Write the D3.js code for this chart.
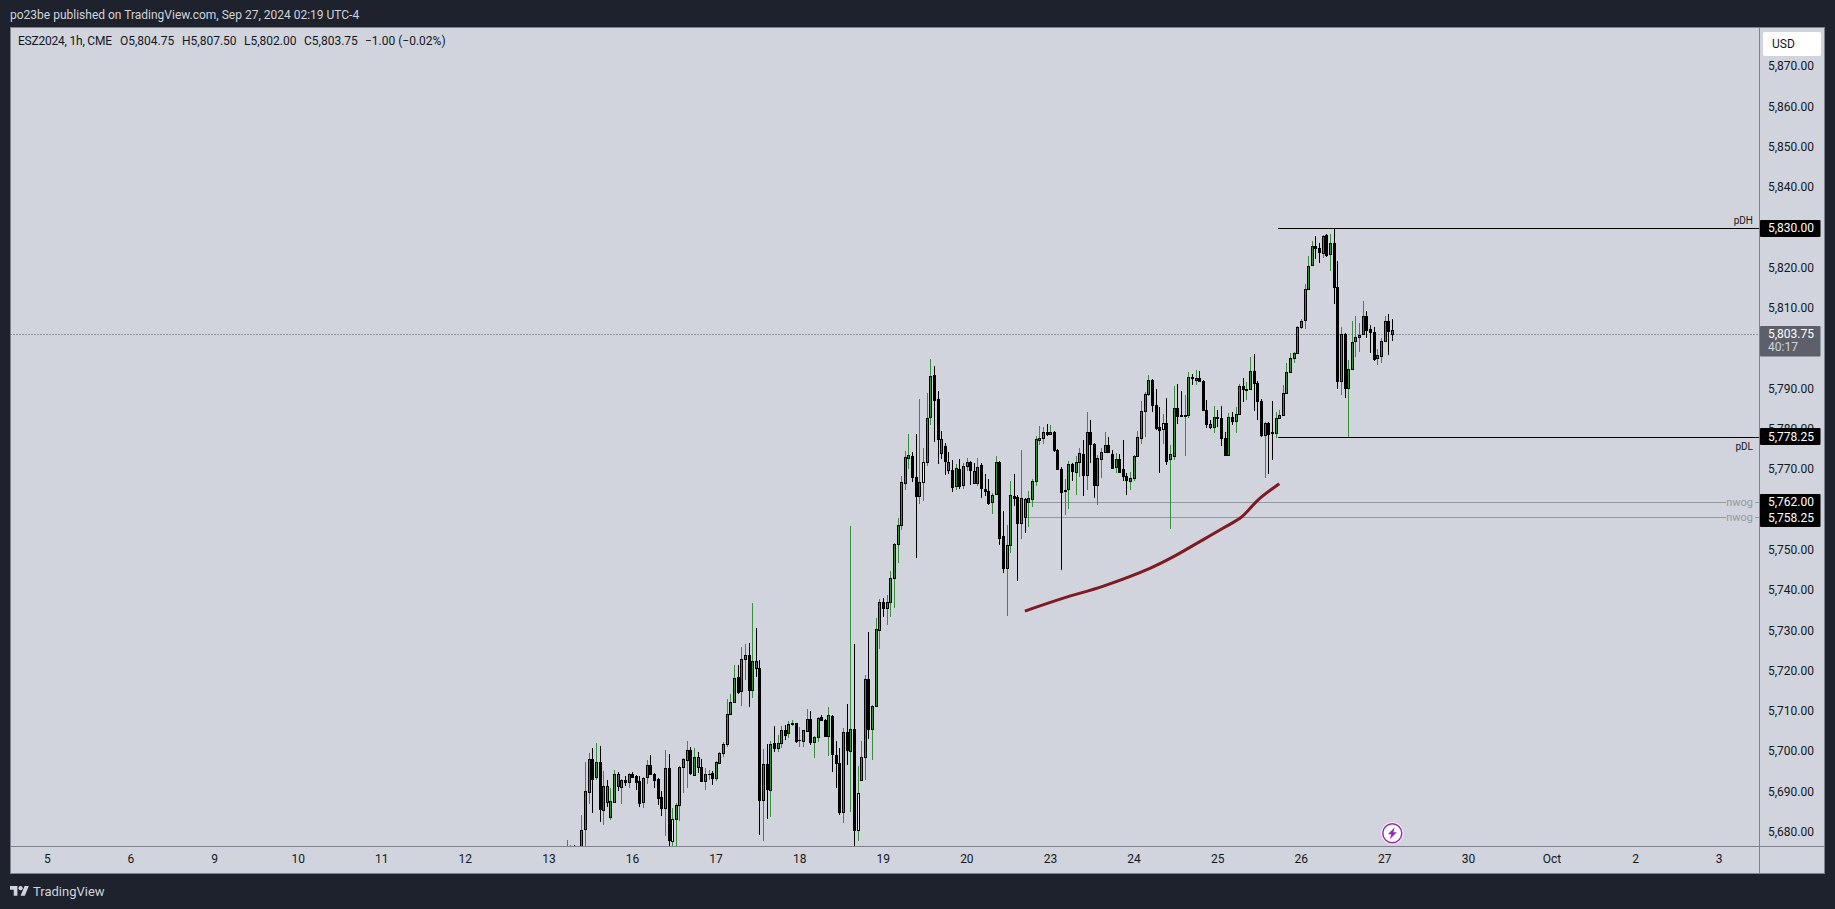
<!DOCTYPE html>
<html lang="en">

<head>
    <meta charset="UTF-8">
    <title>ESZ2024 1h</title>
    <script src="https://d3js.org/d3.v7.min.js"></script>
    <style>
        html, body { margin: 0; background: #1e222d; overflow: hidden; }
        svg { display: block; }
        text { font-family: Roboto, "Noto Sans", sans-serif; font-size: 12px; }
        .domain { display: none; }
    </style>
</head>

<body>
    <div id="chart"></div>

    <script>
        // hourly bars, left to right
        const opens = [5672,5674,5676,5673,5672,5681,5690,5698.25,5693.75,5697.5,5685.75,5691.5,5684,5687.5,5694.5,5691.25,5693,5692.5,5694.5,5694,
            5692.75,5687.5,5693.75,5696.75,5694.5,5693.25,5688.75,5686.25,5696,5678,5683.5,5686.75,5696.25,5698,5700.5,5694.25,5698.75,5696.25,5692.75,5694.5,
            5694.75,5693.5,5697.25,5699.75,5702,5709.5,5712.5,5718.75,5715.25,5723,5724,5715.5,5722.5,5720.75,5688,5697,5690.5,5702.25,5701,5702.25,
            5705.5,5704.75,5707,5707.25,5703,5702.75,5705.25,5708.25,5702.5,5703.75,5708.75,5708,5704,5709,5699.25,5697.25,5685.25,5705,5700.25,5705.75,
            5680.75,5693,5698.75,5718.25,5705.75,5711.5,5730.25,5737.25,5735.75,5737.25,5743.25,5751.75,5756.25,5766.75,5773,5773.5,5768.25,5763.5,5767,5772,
            5783.25,5793.5,5787.5,5777.75,5776,5772,5770,5766,5770.25,5766.25,5771,5772,5769.75,5766.75,5771.25,5765.25,5764.75,5762,5764,5772,
            5753.5,5745.75,5751.5,5763.5,5763.25,5756.75,5762.75,5762,5762.75,5767.25,5777.5,5778,5779.5,5779,5779.5,5775,5770.25,5764.75,5765.25,5771.5,
            5769.5,5772,5774,5768.75,5779.5,5776.5,5766.25,5772.75,5774.5,5776.25,5774,5770.75,5772.75,5770.25,5768.5,5767.25,5768,5773.5,5778,5784.75,
            5788.75,5792.25,5786.25,5780.75,5780.25,5781.75,5772.75,5773.5,5785.5,5783.75,5783.5,5783.75,5793,5792.25,5792.75,5792,5785,5781.5,5780.75,5783.25,
            5783,5778,5773.75,5783.25,5782.25,5784,5790.75,5789.75,5790,5794.5,5791.5,5787,5778.75,5781.75,5779.5,5779.25,5783,5783.75,5789,5794.25,
            5797.75,5799,5805.5,5807.25,5815,5820.75,5825.5,5825,5823.75,5828.25,5823.5,5826.25,5815.5,5792,5803.75,5790.25,5795,5802,5803,5803.75,
            5808.25,5805,5804.25,5797.75,5798.25,5802,5807,5804.75];
        const highs = [5678.25,5677,5677,5675,5684.5,5697.5,5699.75,5701,5702.25,5701.5,5695.25,5693,5691,5695.5,5695,5693.25,5694,5694.75,5695,5694.25,
            5694,5693.75,5698,5699.25,5694.75,5693.5,5690.25,5700.5,5699.5,5686.25,5687.25,5696.5,5698.5,5702.75,5701.25,5701,5700,5698.25,5696,5695.5,
            5695.25,5697.75,5700,5702.5,5713.25,5714.5,5721.5,5721.5,5726,5726.75,5727,5737,5730.75,5722.75,5700.75,5702,5702.75,5706.5,5704.25,5706.5,
            5706.75,5707.75,5708,5707.25,5706.25,5705.5,5710.75,5710.25,5704,5708.75,5709.25,5708.25,5711.25,5709.25,5702.75,5701,5706,5712,5756,5726.75,
            5696.5,5702.75,5719.25,5729.75,5711.75,5733.25,5738,5738.25,5739,5745,5752,5758,5768.5,5774.75,5779,5774.5,5779,5787.5,5775.5,5789,
            5797.5,5795.75,5789.5,5779.75,5776.75,5774.5,5772.5,5771.5,5772.75,5771.75,5773,5772.25,5771.75,5773,5771.75,5769,5767.75,5764.25,5773.5,5772.25,
            5759.75,5756.25,5767.25,5769,5763.75,5775,5763,5764.75,5767.75,5778.5,5781,5780.75,5781.5,5781.25,5779.75,5775.25,5770.75,5767.75,5772.25,5771.75,
            5773.5,5775.5,5777.5,5784.5,5782.5,5776.75,5773.75,5775.5,5779.5,5778.25,5775,5774.25,5774,5777.5,5769.25,5769.5,5773.75,5779.75,5787,5789.25,
            5793.5,5792.5,5790,5785.75,5784,5787.75,5776.25,5790.75,5791.25,5789.5,5788.5,5794.25,5793.75,5794.75,5794.5,5792.25,5787.25,5782.5,5786,5785,
            5786,5779.5,5784.25,5784.5,5785.75,5791.25,5792.75,5791.75,5798,5798.75,5792,5787.5,5782,5782,5787,5784.5,5785,5791,5796.5,5799,
            5799.25,5805.75,5807.5,5816.25,5823,5826.75,5828,5826.25,5828.25,5828.5,5828.5,5830,5821.75,5805.5,5804,5797.25,5807,5808.25,5806.5,5812,
            5809.5,5806,5805.5,5800,5802.75,5808.25,5808.75,5807.5];
        const lows = [5670,5672,5671,5668,5670,5675,5687,5685,5693,5682.75,5682,5686.5,5683.25,5687.25,5690.25,5687,5691.5,5691,5693.5,5690.5,
            5686.5,5686.25,5692,5694.25,5691,5686.75,5684.25,5679.25,5675,5675,5676,5683,5689.75,5691,5694.25,5694,5694.75,5692.75,5690.5,5693,
            5691.75,5692.75,5697,5698.75,5701.25,5709.25,5712.25,5714.5,5711.5,5718,5711.25,5713.5,5718.75,5679.5,5678,5683.5,5684,5700,5700,5701,
            5703,5703.5,5706.5,5702.25,5701.25,5701.25,5705,5701.75,5698.5,5702.5,5708,5703.75,5699,5695,5691,5684.5,5682.5,5696.75,5685.25,5675,
            5678,5693,5693,5703.25,5698,5711.25,5725.5,5733.5,5731.5,5733.5,5735.75,5747,5755,5765,5770.25,5767,5748.25,5761.5,5762.25,5771,
            5781.25,5777,5771.5,5772.75,5768.75,5769,5764.5,5765,5765.25,5765.25,5769.75,5766.25,5766.5,5766,5763,5763.5,5761.25,5759,5763.75,5751.5,
            5744.5,5733.75,5749.5,5761,5742.5,5753,5754.25,5755.75,5760.75,5766,5776.25,5776.5,5778.5,5778.75,5774.5,5770,5745.25,5758.75,5760.25,5767.25,
            5763.75,5768.25,5763.5,5765,5771.75,5763,5761.25,5768,5774.25,5774.25,5770.25,5769.25,5769.25,5767.25,5763.75,5765,5767.25,5773.25,5776.5,5778.25,
            5788.25,5784.5,5780,5769.25,5776.5,5771.25,5755.25,5772.5,5781.5,5783.25,5773.5,5783,5791,5791,5791.75,5784.75,5780.5,5780.25,5779.25,5780.75,
            5776,5773.5,5773.75,5781.25,5779.25,5784,5786.75,5787.25,5789.75,5784.75,5782.5,5778.25,5768,5769,5772.5,5778,5782.75,5783.5,5788.75,5794,
            5796.5,5799,5805,5805,5814.75,5820.5,5822.25,5821.25,5822.5,5822.75,5819.5,5811.25,5790,5788.5,5787.75,5778.25,5795,5798,5799.25,5803.75,
            5802.75,5799,5797,5796,5796.5,5802,5798.5,5802];
        const closes = [5675,5676,5673,5670,5680.75,5690.25,5698.25,5693.25,5697.5,5686,5691.5,5687.5,5687.75,5694.5,5691.5,5693,5692.5,5694.5,5693.75,5692.5,
            5687.25,5693.5,5696.75,5694.5,5693,5688.5,5686.25,5696,5678.25,5683.5,5686.75,5696.25,5698.25,5700.5,5694.75,5698.75,5696.25,5692.75,5694.5,5694.5,
            5693.5,5697.5,5699.75,5702,5709.5,5712.5,5718.5,5715,5723,5724,5715.5,5722.5,5720.75,5688,5697,5690.75,5702,5701,5702.25,5705.5,
            5704.25,5707,5707.25,5702.75,5703,5705.5,5708.25,5702.5,5703.75,5708.5,5708,5704,5709.25,5699.5,5697.25,5685.25,5705,5700.5,5705.75,5680.75,
            5689.75,5698.75,5718.25,5705.75,5711.5,5730.5,5737.25,5735.75,5737.25,5743.25,5751.75,5756.25,5767,5773.25,5773.75,5768.25,5763.5,5767,5772,5783,
            5793.25,5787.25,5777.75,5774.25,5772.25,5770,5765.75,5770.5,5766,5771,5772,5770,5766.75,5770.75,5765.5,5764.75,5761.75,5763.75,5772,5753.25,
            5745.75,5751.5,5763.75,5763,5756.75,5763,5758.25,5763,5767.25,5777.75,5778,5779.5,5779,5779.5,5775,5770.25,5764.5,5765,5771.5,5769.75,
            5772,5774.25,5768.75,5779.5,5776.5,5766.25,5773,5774.5,5776.25,5774.5,5770.5,5772.75,5769.5,5768.5,5767.5,5768,5773.5,5778.25,5784.75,5788.75,
            5792.25,5786.25,5780.5,5780,5781.75,5772.25,5774,5785.5,5783.5,5783.5,5783.75,5793,5792.75,5792.75,5792,5785,5781.5,5780.75,5783.25,5783,
            5778,5773.75,5783.25,5782.25,5784,5790.75,5790,5790,5794.5,5791.5,5787,5778.75,5781.75,5779,5779.25,5783,5783.75,5789,5794.25,5797.75,
            5799,5805.5,5807,5815,5820.5,5825.5,5825,5824,5828,5823.25,5826.25,5815.5,5792,5803.75,5790.25,5795,5801.75,5803,5803.5,5808.25,
            5804.75,5804.25,5797.5,5798.5,5802,5807,5804.5,5803.75];

        // bars the platform paints with a pale or a grey body
        const hollowBars = [29, 80, 98, 164];
        const mutedBars = [11, 14, 36, 52, 103, 105, 112, 126, 177, 196, 227];

        // 5,830 5,800 and 5,760 sit behind price tags, so the scale skips them
        const priceTicks = [5680, 5690, 5700, 5710, 5720, 5730, 5740, 5750, 5770, 5780, 5790, 5810, 5820, 5840, 5850, 5860, 5870];
        const dayLabels = ["5", "6", "9", "10", "11", "12", "13", "16", "17", "18", "19", "20", "23", "24", "25", "26", "27", "30", "Oct", "2", "3"];
        const dayBars = d3.range(-143, 318, 23);

        // hand drawn levels: price, name, first bar
        const levelPrices = [5830, 5778.25, 5762, 5758.25];
        const levelNames = ["pDH", "pDL", "nwog", "nwog"];
        const levelStarts = [195.6, 195.6, 127.3, 126];
        const lastPrice = 5803.75;

        // brush stroke under the market
        const curveBars = [125.9, 136.5, 147.5, 160.3, 166.8, 173.2, 180.5, 185.6, 190.1, 195.9];
        const curvePrices = [5735, 5738.2, 5741.2, 5745.6, 5748.5, 5751.8, 5755.6, 5758.4, 5762.6, 5766.6];

        const width = 1835;
        const height = 909;
        const plotLeft = 10.5;
        const plotTop = 27.5;
        const plotRight = 1759.5;
        const plotBottom = 846.5;
        const frameRight = 1824.5;
        const frameBottom = 873.5;

        const x = d3.scaleLinear().domain([0, 227]).range([567.3, 1392.3]);
        const y = d3.scaleLinear().domain([5870, 5680]).range([67, 832.7]);

        const bars = opens.map((o, i) => ({ i, o, h: highs[i], l: lows[i], c: closes[i] }));
        const col = i => Math.floor(x(i));

        const svg = d3.select("#chart")
            .append("svg")
            .attr("width", width)
            .attr("height", height);

        svg.append("rect")
            .attr("x", plotLeft).attr("y", plotTop)
            .attr("width", frameRight - plotLeft).attr("height", frameBottom - plotTop)
            .attr("fill", "#d1d4dc").attr("stroke", "#7f828c");

        svg.append("defs").append("clipPath").attr("id", "plot").append("rect")
            .attr("x", plotLeft).attr("y", plotTop)
            .attr("width", plotRight - plotLeft).attr("height", plotBottom - plotTop);

        const plot = svg.append("g").attr("clip-path", "url(#plot)");

        // last price line
        plot.append("line")
            .attr("x1", plotLeft).attr("x2", plotRight)
            .attr("y1", Math.round(y(lastPrice)) + 0.5).attr("y2", Math.round(y(lastPrice)) + 0.5)
            .attr("stroke", "#50535e").attr("stroke-dasharray", "1 2");

        // levels go under the candles
        levelPrices.forEach((p, i) => {
            const ly = Math.round(y(p)) + 0.5;
            const isGrey = levelNames[i] === "nwog";
            const line = (x1, x2) => plot.append("line")
                .attr("x1", x1).attr("x2", x2).attr("y1", ly).attr("y2", ly)
                .attr("stroke", isGrey ? "#9598a1" : "#000");
            if (isGrey) {
                line(x(levelStarts[i]), 1726);
                line(1755, plotRight);
                plot.append("text").attr("x", 1753).attr("y", ly).attr("dy", "0.32em")
                    .attr("text-anchor", "end").style("font-size", "11px")
                    .attr("fill", "#9598a1").text(levelNames[i]);
            } else {
                line(x(levelStarts[i]), plotRight);
                plot.append("text").attr("x", 1753).attr("y", ly + (levelNames[i] === "pDH" ? -8 : 9)).attr("dy", "0.32em")
                    .attr("text-anchor", "end").style("font-size", "10px")
                    .attr("fill", "#131722").text(levelNames[i]);
            }
        });

        const isUp = d => d.c >= d.o;

        plot.append("g").selectAll("rect").data(bars).join("rect")
            .attr("x", d => col(d.i))
            .attr("y", d => Math.round(y(d.h)))
            .attr("width", 1)
            .attr("height", d => Math.max(1, Math.round(y(d.l)) - Math.round(y(d.h))))
            .attr("fill", d => isUp(d) ? "#388e3c" : "#000");

        plot.append("g").selectAll("rect").data(bars).join("rect")
            .attr("x", d => col(d.i) - 1)
            .attr("y", d => Math.round(y(Math.max(d.o, d.c))))
            .attr("width", 3)
            .attr("height", d => Math.max(1, Math.round(y(Math.min(d.o, d.c))) - Math.round(y(Math.max(d.o, d.c))) + 1))
            .attr("fill", "#000");

        plot.append("g").selectAll("rect").data(bars).join("rect")
            .attr("x", d => col(d.i))
            .attr("y", d => Math.round(y(Math.max(d.o, d.c))) + 1)
            .attr("width", 1)
            .attr("height", d => Math.max(0, Math.round(y(Math.min(d.o, d.c))) - Math.round(y(Math.max(d.o, d.c))) - 1))
            .attr("fill", d => {
                if (hollowBars.includes(d.i)) return "#e8eaee";
                if (mutedBars.includes(d.i)) return "#5d606b";
                return isUp(d) ? "#388e3c" : "#000";
            });

        const curve = d3.line()
            .x((d, i) => x(curveBars[i]))
            .y(d => y(d))
            .curve(d3.curveCatmullRom);

        plot.append("path")
            .attr("d", curve(curvePrices))
            .attr("fill", "none")
            .attr("stroke", "#801922")
            .attr("stroke-width", 3);

        // axes
        svg.append("line").attr("x1", plotRight).attr("x2", plotRight).attr("y1", plotTop).attr("y2", frameBottom).attr("stroke", "#7f828c");
        svg.append("line").attr("x1", plotLeft).attr("x2", frameRight).attr("y1", plotBottom).attr("y2", plotBottom).attr("stroke", "#7f828c");

        const yAxis = d3.axisRight(y)
            .tickValues(priceTicks)
            .tickFormat(d3.format(",.2f"))
            .tickSize(0)
            .tickPadding(8.5);

        svg.append("g")
            .attr("transform", `translate(${plotRight},-1)`)
            .call(yAxis)
            .call(g => g.selectAll("text").attr("fill", "#131722").style("font-size", "12px"));

        const xAxis = d3.axisBottom(x)
            .tickValues(dayBars)
            .tickFormat((d, i) => dayLabels[i])
            .tickSize(0)
            .tickPadding(8);

        svg.append("g")
            .attr("transform", `translate(-0.7,${plotBottom})`)
            .call(xAxis)
            .call(g => g.selectAll("text").attr("fill", "#131722").style("font-size", "12px"));

        // price tags on the scale
        let lastTagBottom = 0;
        levelPrices.forEach(p => {
            let cy = y(p);
            if (cy - 8.5 < lastTagBottom - 1) cy = lastTagBottom + 7.5;
            lastTagBottom = cy + 8.5;
            svg.append("rect").attr("x", plotRight + 0.5).attr("y", Math.round(cy - 8.5))
                .attr("width", 60.5).attr("height", 17).attr("rx", 1).attr("fill", "#000");
            svg.append("text").attr("x", 1768).attr("y", cy).attr("dy", "0.32em")
                .attr("fill", "#fff").text(d3.format(",.2f")(p));
        });

        svg.append("rect").attr("x", plotRight + 0.5).attr("y", 326)
            .attr("width", 60.5).attr("height", 30.5).attr("rx", 1).attr("fill", "#5d606b");
        svg.append("text").attr("x", 1768).attr("y", 334).attr("dy", "0.32em").attr("fill", "#fff").text(d3.format(",.2f")(lastPrice));
        svg.append("text").attr("x", 1768).attr("y", 347.5).attr("dy", "0.32em").attr("fill", "#d1d4dc").text("40:17");

        // USD button
        svg.append("rect").attr("x", 1763).attr("y", 32).attr("width", 58).attr("height", 24).attr("rx", 2).attr("fill", "#fff");
        svg.append("text").attr("x", 1772).attr("y", 44).attr("dy", "0.32em").attr("fill", "#131722").text("USD");

        // header and legend
        svg.append("text").attr("x", 10).attr("y", 15).attr("dy", "0.32em").attr("fill", "#d1d4dc")
            .text("po23be published on TradingView.com, Sep 27, 2024 02:19 UTC-4");

        const legendTexts = ["ESZ2024, 1h, CME", "O5,804.75", "H5,807.50", "L5,802.00", "C5,803.75", "\u22121.00 (\u22120.02%)"];
        const legendX = [18, 120, 182, 244, 304, 365];
        legendTexts.forEach((t, i) => {
            svg.append("text").attr("x", legendX[i]).attr("y", 41.5).attr("dy", "0.32em").attr("fill", "#131722")
                .attr("textLength", i === 0 ? 94 : null)
                .text(t);
        });

        // lightning badge
        const badge = svg.append("g").attr("transform", "translate(1392.3,833.3)");
        badge.append("circle").attr("r", 11).attr("fill", "#fff");
        badge.append("circle").attr("r", 9.5).attr("fill", "#fff").attr("stroke", "#9c27b0").attr("stroke-width", 1.5);
        badge.append("path").attr("d", "M2.5,-6 L-4.5,1 L-1,1 L-2.5,6 L4.5,-1 L1,-1 Z").attr("fill", "#9c27b0");

        // footer logo
        const logo = svg.append("g").attr("transform", "translate(10,884) scale(0.53)").attr("fill", "#d1d4dc");
        logo.append("path").attr("d", "M14 22H7V11H0V4h14v18zM28 22h-8l7.5-18h8L28 22z");
        logo.append("circle").attr("cx", 20).attr("cy", 8).attr("r", 4);
        svg.append("text").attr("x", 33).attr("y", 892).attr("dy", "0.32em").attr("fill", "#d1d4dc")
            .style("font-size", "13px").text("TradingView");
    </script>
</body>

</html>
